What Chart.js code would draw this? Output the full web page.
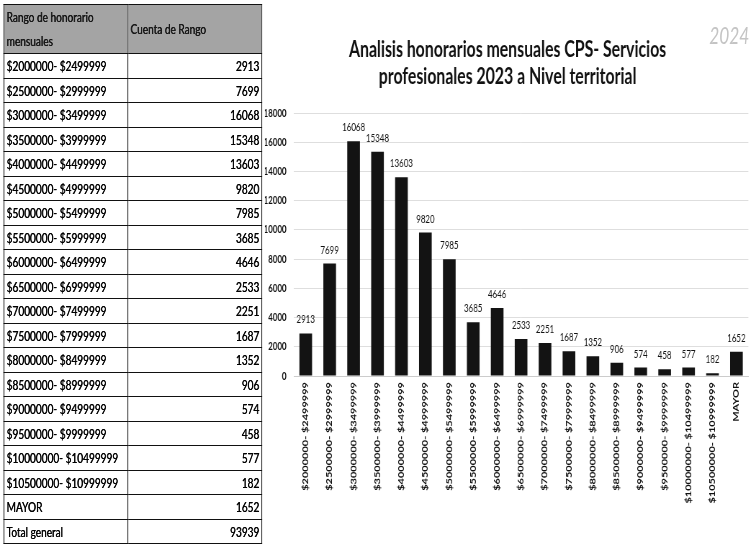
<!DOCTYPE html>
<html><head><meta charset="utf-8">
<script src="https://cdn.jsdelivr.net/npm/chart.js@4.4.1/dist/chart.umd.min.js"></script>
<style>
html,body{margin:0;padding:0;background:#fff;overflow:hidden;width:750px;height:548px;}
#wrap{position:absolute;left:0;top:0;width:1042px;height:548px;transform:scaleX(0.72);transform-origin:0 0;}
#tbl{position:absolute;left:5px;top:4px;border-collapse:collapse;font-family:Lato,sans-serif;font-size:14px;color:#000;table-layout:fixed;text-shadow:0.5px 0 0 #000;}
#tbl td,#tbl th{border:1.6px solid #111;padding:0 3px;white-space:nowrap;overflow:hidden;}
#tbl tr.row{height:24.5px;}
#tbl tr.head{height:48px;}
#tbl th{background:#a4a4a4;font-weight:normal;text-align:left;line-height:24px;color:#1a1a1a;}
#tbl td.num{text-align:right;}
#c{position:absolute;left:368px;top:0;}
#wm{position:absolute;left:985px;top:20px;font-family:Lato,sans-serif;font-style:italic;font-size:24px;color:#c4c4c4;}
</style></head>
<body>
<div id="wrap">
<table id="tbl"><colgroup><col style="width:172px"><col style="width:186px"></colgroup><tbody id="tb"></tbody></table>
<canvas id="c" width="674" height="548"></canvas>
<div id="wm">2024</div>
</div>
<script>
const headers = ['Rango de honorario<br>mensuales', 'Cuenta de Rango'];
const categories = ['$2000000- $2499999','$2500000- $2999999','$3000000- $3499999','$3500000- $3999999','$4000000- $4499999','$4500000- $4999999','$5000000- $5499999','$5500000- $5999999','$6000000- $6499999','$6500000- $6999999','$7000000- $7499999','$7500000- $7999999','$8000000- $8499999','$8500000- $8999999','$9000000- $9499999','$9500000- $9999999','$10000000- $10499999','$10500000- $10999999','MAYOR'];
const counts = [2913,7699,16068,15348,13603,9820,7985,3685,4646,2533,2251,1687,1352,906,574,458,577,182,1652];
const totalLabel = 'Total general';
const totalValue = 93939;
const titleLines = ['Analisis honorarios mensuales CPS- Servicios','profesionales 2023 a Nivel territorial'];
const yMin = 0, yMax = 18000, yStep = 2000;

// table
const tb = document.getElementById('tb');
let html = '<tr class="head"><th>' + headers[0] + '</th><th>' + headers[1] + '</th></tr>';
categories.forEach((c, i) => { html += '<tr class="row"><td>' + c + '</td><td class="num">' + counts[i] + '</td></tr>'; });
html += '<tr class="row"><td>' + totalLabel + '</td><td class="num">' + totalValue + '</td></tr>';
tb.innerHTML = html;

const valueLabels = {
  id: 'valueLabels',
  afterDatasetsDraw(chart) {
    const ctx = chart.ctx;
    const meta = chart.getDatasetMeta(0);
    const data = chart.data.datasets[0].data;
    ctx.save();
    ctx.font = '11px Lato';
    ctx.fillStyle = '#111';
    ctx.textAlign = 'center';
    ctx.textBaseline = 'alphabetic';
    meta.data.forEach((bar, i) => { ctx.fillText(String(data[i]), bar.x, bar.y - 10); });
    ctx.restore();
  }
};

new Chart(document.getElementById('c'), {
  type: 'bar',
  data: { labels: categories, datasets: [{ data: counts, backgroundColor: '#131313', barPercentage: 0.53, categoryPercentage: 1 }] },
  options: {
    responsive: false, animation: false,
    layout: { padding: 0 },
    plugins: {
      legend: { display: false }, tooltip: { enabled: false },
      title: { display: true, text: titleLines, color: '#111',
        font: { family: 'Lato', size: 22, weight: 'bold', lineHeight: 1.2 },
        padding: { top: 37, bottom: 23.2 } }
    },
    scales: {
      x: {
        grid: { display: false, drawTicks: false },
        border: { display: true, color: '#cccccc' },
        ticks: { minRotation: 90, maxRotation: 90, autoSkip: false, padding: 6, color: '#111',
          font: { family: 'Lato', size: 11, weight: 'bold' } },
        afterFit: s => { s.height = 172; }
      },
      y: {
        min: yMin, max: yMax,
        grid: { color: '#dedede', drawTicks: false },
        border: { display: false },
        ticks: { stepSize: yStep, padding: 10, color: '#111', font: { family: 'Lato', size: 11, weight: 'bold' },
          callback: v => String(v) },
        afterFit: s => { s.width = 40; }
      }
    }
  },
  plugins: [valueLabels]
});
</script>
</body></html>
